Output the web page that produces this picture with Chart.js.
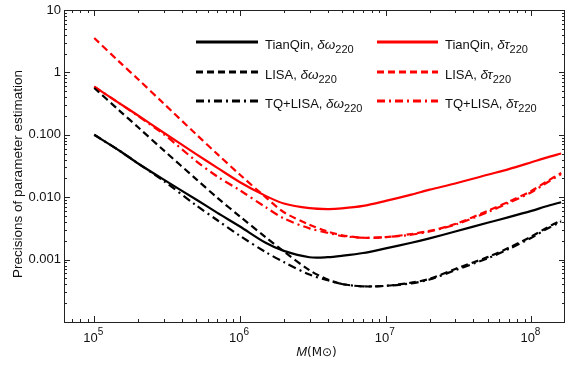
<!DOCTYPE html>
<html>
<head>
<meta charset="utf-8">
<script src="https://cdn.jsdelivr.net/npm/chart.js@4/dist/chart.umd.min.js"></script>
<style>
  html, body { margin: 0; padding: 0; background: #fff; }
  canvas { display: block; }
</style>
</head>
<body>
<canvas id="myCanvas" width="569" height="368"></canvas>
<script>
// black hole mass M (solar masses)
const masses = [1e5, 1.5e5, 2e5, 3e5, 5e5, 7e5, 1e6, 1.5e6, 2e6, 3e6, 4e6, 5e6, 7e6,
                1e7, 1.5e7, 2e7, 3e7, 5e7, 7e7, 1e8, 1.25e8, 1.6e8];

// TianQin
const tqOmega = [0.100, 0.055, 0.0347, 0.0191, 0.0092, 0.00562, 0.00339, 0.00186, 0.00138, 0.001092, 0.001092, 0.001148, 0.001274,
                 0.001514, 0.00186, 0.00219, 0.00282, 0.00389, 0.00479, 0.00603, 0.00708, 0.00832];
const tqTau = [0.593, 0.316, 0.204, 0.108, 0.049, 0.0295, 0.0174, 0.0105, 0.00794, 0.00668, 0.00646, 0.00661, 0.00724,
               0.00871, 0.0110, 0.0132, 0.0166, 0.0229, 0.0282, 0.0363, 0.0427, 0.0501];

// LISA
const lisaOmega = [0.562, 0.240, 0.132, 0.0562, 0.0195, 0.00977, 0.0049, 0.00229, 0.001349, 0.000676, 0.000479, 0.000407, 0.000372,
                   0.00038, 0.000427, 0.00049, 0.000708, 0.001096, 0.001549, 0.002344, 0.00316, 0.00427];
const lisaTau = [3.55, 1.445, 0.776, 0.316, 0.102, 0.049, 0.0229, 0.0100, 0.00575, 0.00363, 0.00282, 0.002455, 0.002239,
                 0.002291, 0.00257, 0.002884, 0.003715, 0.006026, 0.00851, 0.0126, 0.0174, 0.0245];

// TianQin + LISA network
const netOmega = [0.100, 0.055, 0.0347, 0.0182, 0.00741, 0.00427, 0.0024, 0.001318, 0.000912, 0.000575, 0.000468, 0.000407, 0.000372,
                  0.00038, 0.000417, 0.000479, 0.000676, 0.001047, 0.001479, 0.00224, 0.00302, 0.00407];
const netTau = [0.593, 0.316, 0.1995, 0.102, 0.038, 0.02138, 0.01288, 0.00692, 0.00457, 0.00316, 0.00269, 0.0024, 0.00224,
                0.00229, 0.00251, 0.00282, 0.00363, 0.00575, 0.00813, 0.01202, 0.0166, 0.02344];

const yLabels = [[10, '10'], [1, '1'], [0.1, '0.100'], [0.01, '0.010'], [0.001, '0.001']];
const xDecades = [5, 6, 7, 8];

const DASH = [7, 4];
const DASHDOT = [8, 4, 2, 4];
const FONT = '"Liberation Sans", Arial, sans-serif';

function pts(vals) {
  return masses.map((m, i) => ({ x: m, y: vals[i] }));
}

function series(vals, color, dash) {
  return {
    data: pts(vals),
    borderColor: color,
    borderWidth: 2.2,
    borderDash: dash,
    pointRadius: 0,
    tension: 0.3,
    fill: false
  };
}

// frame with inward ticks, tick labels, axis titles and legend
const framePlugin = {
  id: 'frame',
  afterDraw(chart) {
    const { ctx, chartArea: a, scales: { x, y } } = chart;
    ctx.save();
    ctx.strokeStyle = '#222';
    ctx.lineWidth = 1;
    ctx.strokeRect(a.left + 0.5, a.top + 0.5, a.right - a.left - 1, a.bottom - a.top);

    ctx.beginPath();
    for (let d = -4; d <= 1; d++) {
      for (let k = 1; k <= 9; k++) {
        const v = k * Math.pow(10, d);
        if (v < y.min * 0.999 || v > y.max * 1.001) continue;
        const py = Math.round(y.getPixelForValue(v)) + 0.5;
        const len = k === 1 ? 6 : 3;
        ctx.moveTo(a.left, py); ctx.lineTo(a.left + len, py);
        ctx.moveTo(a.right, py); ctx.lineTo(a.right - len, py);
      }
    }
    for (let d = 4; d <= 8; d++) {
      for (let k = 1; k <= 9; k++) {
        const v = k * Math.pow(10, d);
        if (v < x.min || v > x.max) continue;
        const px = Math.round(x.getPixelForValue(v)) + 0.5;
        const len = k === 1 ? 6 : 3;
        ctx.moveTo(px, a.bottom); ctx.lineTo(px, a.bottom - len);
        ctx.moveTo(px, a.top); ctx.lineTo(px, a.top + len);
      }
    }
    ctx.stroke();

    ctx.fillStyle = '#111';
    ctx.font = '13px ' + FONT;
    ctx.textAlign = 'right';
    ctx.textBaseline = 'middle';
    yLabels.forEach(([v, t]) => ctx.fillText(t, a.left - 3, y.getPixelForValue(v)));

    ctx.textBaseline = 'alphabetic';
    xDecades.forEach(d => {
      const px = x.getPixelForValue(Math.pow(10, d));
      ctx.font = '13px ' + FONT;
      const w1 = ctx.measureText('10').width;
      ctx.font = '10px ' + FONT;
      const w2 = ctx.measureText(String(d)).width;
      const x0 = px - 1 - (w1 + w2) / 2;
      ctx.textAlign = 'left';
      ctx.font = '13px ' + FONT;
      ctx.fillText('10', x0, 342);
      ctx.font = '10px ' + FONT;
      ctx.fillText(String(d), x0 + w1, 335);
    });

    // x title: M(M⊙)
    ctx.font = 'italic 13px ' + FONT;
    const wM = ctx.measureText('M').width;
    ctx.font = '12px "DejaVu Sans", "Liberation Sans", sans-serif';
    const wRest = ctx.measureText('(M⊙)').width;
    const tx = (a.left + a.right) / 2 + 2 - (wM + wRest) / 2;
    ctx.font = 'italic 13px ' + FONT;
    ctx.fillText('M', tx, 356);
    ctx.font = '12px "DejaVu Sans", "Liberation Sans", sans-serif';
    ctx.fillText('(M⊙)', tx + wM, 356);

    // y title
    ctx.save();
    ctx.translate(22, 174);
    ctx.rotate(-Math.PI / 2);
    ctx.textAlign = 'center';
    ctx.font = '13.5px ' + FONT;
    ctx.fillText('Precisions of parameter estimation', 0, 0);
    ctx.restore();

    // legend
    const rows = [42, 72, 101];
    const styles = [[], DASH, DASHDOT];
    const names = ['TianQin, ', 'LISA, ', 'TQ+LISA, '];
    const cols = [
      { x1: 196, x2: 258, tx: 265, color: '#000', sym: 'δω' },
      { x1: 377, x2: 438, tx: 445, color: '#ff0000', sym: 'δτ' }
    ];
    cols.forEach(c => {
      rows.forEach((ry, i) => {
        ctx.beginPath();
        ctx.setLineDash(styles[i]);
        ctx.strokeStyle = c.color;
        ctx.lineWidth = 3;
        ctx.moveTo(c.x1, ry);
        ctx.lineTo(c.x2, ry);
        ctx.stroke();
        ctx.setLineDash([]);

        ctx.fillStyle = '#111';
        ctx.textAlign = 'left';
        let cx = c.tx;
        const base = ry + 6.5;
        ctx.font = '13px ' + FONT;
        ctx.fillText(names[i], cx, base);
        cx += ctx.measureText(names[i]).width;
        ctx.font = 'italic 13.5px ' + FONT;
        ctx.fillText(c.sym, cx, base);
        cx += ctx.measureText(c.sym).width;
        ctx.font = '11px ' + FONT;
        ctx.fillText('220', cx, base + 4);
      });
    });
    ctx.restore();
  }
};

const canvas = document.getElementById('myCanvas');
const chart = new Chart(canvas.getContext('2d'), {
  type: 'line',
  data: {
    datasets: [
      series(tqOmega, '#000', []),
      series(lisaOmega, '#000', DASH),
      series(netOmega, '#000', DASHDOT),
      series(tqTau, '#ff0000', []),
      series(lisaTau, '#ff0000', DASH),
      series(netTau, '#ff0000', DASHDOT)
    ]
  },
  options: {
    responsive: false,
    animation: false,
    devicePixelRatio: 1,
    layout: { padding: { left: 64, right: 4, top: 10, bottom: 46 } },
    plugins: { legend: { display: false }, tooltip: { enabled: false } },
    scales: {
      x: { type: 'logarithmic', min: 6.2e4, max: 1.7e8, display: false },
      y: { type: 'logarithmic', min: 1e-4, max: 10, display: false }
    }
  },
  plugins: [framePlugin]
});
</script>
</body>
</html>
